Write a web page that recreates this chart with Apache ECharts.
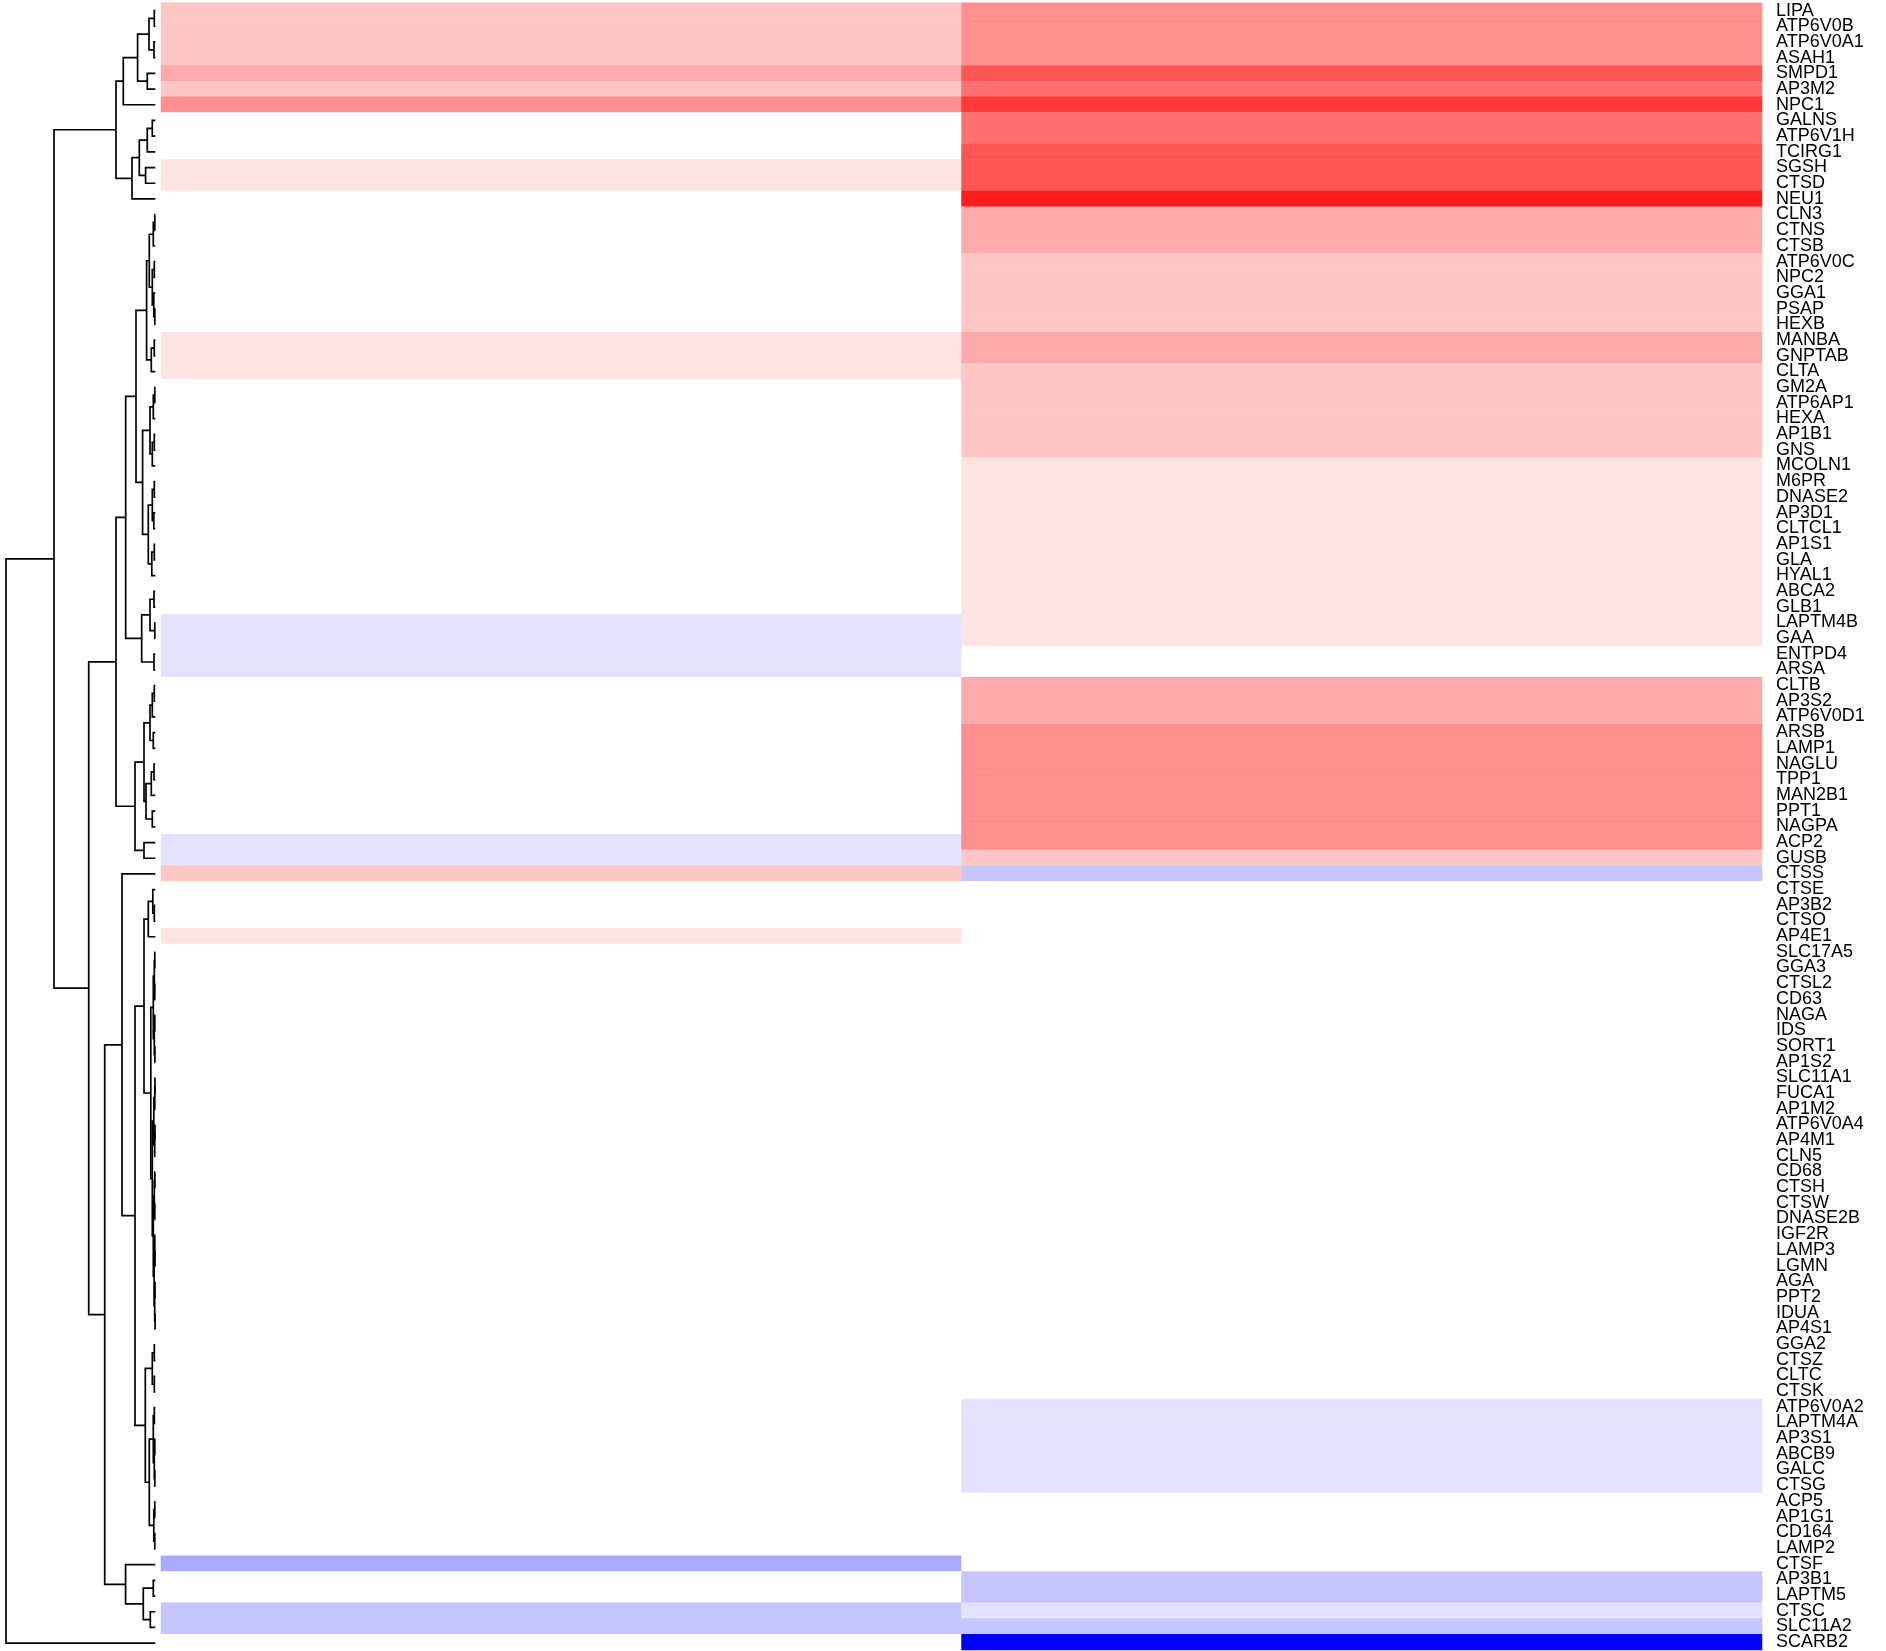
<!DOCTYPE html>
<html><head><meta charset="utf-8">
<script src="https://cdn.jsdelivr.net/npm/echarts@6/dist/echarts.min.js"></script>
<style>html,body{margin:0;padding:0;background:#fff}#c{width:1886px;height:1651px}</style>
</head><body><div id="c"></div>
<script>
// Row labels, top to bottom
const genes = ['LIPA','ATP6V0B','ATP6V0A1','ASAH1','SMPD1','AP3M2','NPC1','GALNS','ATP6V1H','TCIRG1','SGSH','CTSD','NEU1','CLN3','CTNS','CTSB','ATP6V0C','NPC2','GGA1','PSAP','HEXB','MANBA','GNPTAB','CLTA','GM2A','ATP6AP1','HEXA','AP1B1','GNS','MCOLN1','M6PR','DNASE2','AP3D1','CLTCL1','AP1S1','GLA','HYAL1','ABCA2','GLB1','LAPTM4B','GAA','ENTPD4','ARSA','CLTB','AP3S2','ATP6V0D1','ARSB','LAMP1','NAGLU','TPP1','MAN2B1','PPT1','NAGPA','ACP2','GUSB','CTSS','CTSE','AP3B2','CTSO','AP4E1','SLC17A5','GGA3','CTSL2','CD63','NAGA','IDS','SORT1','AP1S2','SLC11A1','FUCA1','AP1M2','ATP6V0A4','AP4M1','CLN5','CD68','CTSH','CTSW','DNASE2B','IGF2R','LAMP3','LGMN','AGA','PPT2','IDUA','AP4S1','GGA2','CTSZ','CLTC','CTSK','ATP6V0A2','LAPTM4A','AP3S1','ABCB9','GALC','CTSG','ACP5','AP1G1','CD164','LAMP2','CTSF','AP3B1','LAPTM5','CTSC','SLC11A2','SCARB2'];
const columns = ['1', '2'];
// column values (colour scale -9 blue .. 0 white .. 9 red)
const col1 = [2,2,2,2,3,2,4,0,0,0,1,1,0,0,0,0,0,0,0,0,0,1,1,1,0,0,0,0,0,0,0,0,0,0,0,0,0,0,0,-1,-1,-1,-1,0,0,0,0,0,0,0,0,0,0,-1,-1,2,0,0,0,1,0,0,0,0,0,0,0,0,0,0,0,0,0,0,0,0,0,0,0,0,0,0,0,0,0,0,0,0,0,0,0,0,0,0,0,0,0,0,0,-3,0,0,-2,-2,0];
const col2 = [4,4,4,4,6,5,7,5,5,6,6,6,8,3,3,3,2,2,2,2,2,3,3,2,2,2,2,2,2,1,1,1,1,1,1,1,1,1,1,1,1,0,0,3,3,3,4,4,4,4,4,4,4,4,2,-2,0,0,0,0,0,0,0,0,0,0,0,0,0,0,0,0,0,0,0,0,0,0,0,0,0,0,0,0,0,0,0,0,0,-1,-1,-1,-1,-1,-1,0,0,0,0,0,-2,-2,-1,-2,-9];
// Row dendrogram: node = [height, childA, childB]; leaf = row number (1-based)
const treeTop = [3.93,
  [3.2, [1.77, [0.63, [0.1, 1, 2], [0.13, 3, 4]], [0.8, 5, 6]], 7],
  [2.33, [1.6, [0.8, [0.3, 8, 9], 10], [0.97, 11, 12]], 13]];
const treeJ = [1.93,
  [0.87, [0.6, [0.2, [0.05, 14, 15], 16], [0.3, [0.1, 17, 18], [0.15, 19, [0.05, 20, 21]]]], [0.4, [0.1, 22, 23], 24]],
  [1.27, [0.53, [0.2, [0.05, 25, 26], 27], [0.3, [0.1, 28, 29], 30]], [0.7, [0.3, [0.1, 31, 32], [0.15, 33, 34]], [0.35, [0.1, 35, 36], 37]]]];
const treeK = [1.36, [0.53, [0.13, 38, 39], [0.05, 40, 41]], [0.13, 42, 43]];
const treeI = [2.03, [1.13, [0.53, [0.3, [0.1, 44, 45], 46], [0.2, 47, 48]], [0.93, [0.4, [0.13, 49, 50], 51], [0.3, 52, 53]]], [1.13, 54, 55]];
const treeW = [0.45, [0.2, [0.1, [0.05, 61, 62], [0.05, 63, 64]], [0.1, [0.05, 65, 66], [0.04, 67, 68]]], [0.3, [0.15, [0.05, [0.03, 69, 70], 71], [0.06, [0.03, 72, 73], 74]], [0.2, [0.1, [0.04, 75, 76], [0.05, 77, 78]], [0.12, [0.05, 79, [0.03, 80, 81]], [0.06, [0.03, 82, 83], [0.02, 84, 85]]]]]];
const treeM2low = [1.0, [0.3, [0.1, 86, 87], [0.1, 88, 89]], [0.6, [0.2, [0.1, 90, 91], [0.1, [0.05, 92, 93], [0.05, 94, 95]]], [0.15, [0.05, 96, 97], [0.05, 98, 99]]]];
const treeN = [2.97, 100, [1.2, [0.2, 101, 102], [0.5, 103, 104]]];
const tree = [14.93,
  [10.13, treeTop,
    [6.66,
      [3.93, [2.96, treeJ, treeK], treeI],
      [5.06,
        [3.33, 56, [2.03, [1.13, [0.7, [0.25, 57, [0.1, 58, 59]], 60], treeW], treeM2low]],
        treeN]]],
  105];

// ---- build series data ----
const heatData = [];
genes.forEach((g, i) => { heatData.push([0, i, col1[i]]); heatData.push([1, i, col2[i]]); });
const segs = [];
function walk(n) {
  if (!Array.isArray(n)) return { y: n - 1, h: 0 };
  const a = walk(n[1]), b = walk(n[2]);
  segs.push({ coords: [[a.h, a.y], [n[0], a.y], [n[0], b.y], [b.h, b.y]] });
  return { y: (a.y + b.y) / 2, h: n[0] };
}
walk(tree);

const TOP = 2.7, H = 15.775 * genes.length;
const chart = echarts.init(document.getElementById('c'), null, { renderer: 'canvas' });
chart.setOption({
  animation: false,
  backgroundColor: '#fff',
  grid: [
    { left: 161, width: 1601, top: TOP, height: H },
    { left: 6, width: 149.3, top: TOP, height: H }
  ],
  xAxis: [
    { type: 'category', data: columns, gridIndex: 0, show: false },
    { type: 'value', gridIndex: 1, min: 0, max: tree[0], inverse: true, show: false }
  ],
  yAxis: [
    { type: 'category', data: genes, gridIndex: 0, inverse: true, position: 'right',
      axisLine: { show: false }, axisTick: { show: false }, splitLine: { show: false },
      axisLabel: { interval: 0, margin: 14, fontSize: 18, color: '#000', padding: [8, 0, 0, 0],
        fontFamily: 'Liberation Sans, Arial, sans-serif' } },
    { type: 'value', gridIndex: 1, min: -0.5, max: genes.length - 0.5, inverse: true, show: false }
  ],
  visualMap: { show: false, type: 'continuous', min: -9, max: 9, seriesIndex: 0,
    inRange: { color: ['#0000FF', '#FFFFFF', '#FF0000'] } },
  series: [
    { type: 'heatmap', xAxisIndex: 0, yAxisIndex: 0, data: heatData, itemStyle: { borderWidth: 0 } },
    { type: 'lines', coordinateSystem: 'cartesian2d', xAxisIndex: 1, yAxisIndex: 1, polyline: true,
      data: segs, silent: true, lineStyle: { color: '#000', width: 1.7, opacity: 1 } }
  ]
});
</script></body></html>
